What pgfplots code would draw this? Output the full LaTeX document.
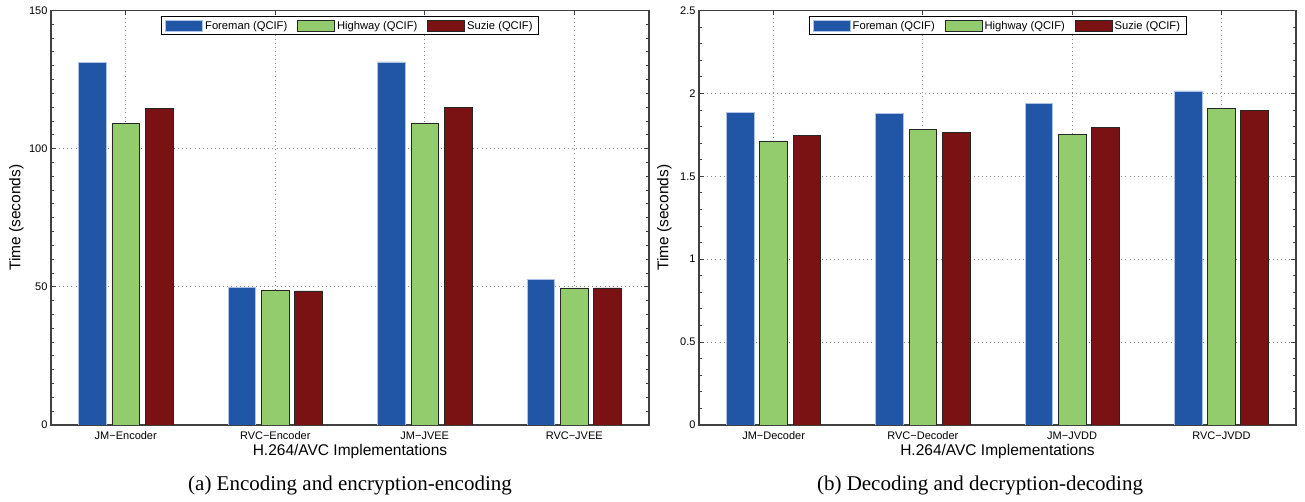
\documentclass[border=0pt]{standalone}
\usepackage{fontspec}
\setmainfont{Liberation Sans}
\newfontfamily\capfont{Liberation Serif}
\usepackage{pgfplots}
\pgfplotsset{compat=1.18}
\definecolor{cBlue}{HTML}{2156A6}
\definecolor{cBlueEdge}{HTML}{AEC3E6}
\definecolor{cGreen}{HTML}{93CC6C}
\definecolor{cRed}{HTML}{7A1214}
\pgfplotsset{
  myleg/.style={legend image code/.code={\draw[##1] (0pt,-5.5pt) rectangle (37pt,5.5pt);}},
  myaxis/.style={
    scale only axis, width=598pt, height=414.5pt, anchor=south west,
    xmin=0.5, xmax=4.5, xtick={1,2,3,4}, ymin=0,
    ybar, bar width=0.185,
    axis line style={line width=1.2pt, black!75},
    tick style={black!75, line width=0.9pt},
    major tick length=5pt, minor tick length=3pt,
    tick align=inside, tick pos=both,
    grid=major, major grid style={dash pattern=on 0.9pt off 3.2pt, black!45, line width=0.9pt},
    minor grid style={draw=none},
    /pgf/number format/assume math mode=true,
    yticklabel style={font=\fontsize{11}{13}\selectfont},
    xticklabel style={font=\fontsize{11}{13}\selectfont, anchor=center, yshift=-11pt},
    ylabel={Time (seconds)}, xlabel={H.264/AVC Implementations},
    ylabel style={font=\fontsize{15.5}{18}\selectfont, at={(axis description cs:-0.058,0.5)}, anchor=center},
    xlabel style={font=\fontsize{15.5}{18}\selectfont, at={(axis description cs:0.5,0)}, anchor=center, yshift=-26pt},
    legend style={at={(0.5,1)}, yshift=-6pt, anchor=north, legend columns=3, draw=black, line width=0.8pt,
      font=\fontsize{11.2}{13}\selectfont, inner xsep=4pt, inner ysep=2pt,
      /tikz/every even column/.append style={column sep=8pt}},
    legend cell align=left,
  },
  sBlue/.style={fill=cBlue, draw=cBlueEdge, line width=0.7pt, bar shift=-0.223, myleg},
  sGreen/.style={fill=cGreen, draw=black!85, line width=0.8pt, bar shift=0, myleg},
  sRed/.style={fill=cRed, draw=black!85, line width=0.8pt, bar shift=0.223, myleg},
}
\begin{document}
\begin{tikzpicture}
\path[use as bounding box] (0,0) rectangle (1305pt,502pt);
\begin{axis}[myaxis, at={(51pt,77pt)}, ymax=150, ytick={0,50,100,150}, minor y tick num=9,
  xticklabels={JM−Encoder,RVC−Encoder,JM−JVEE,RVC−JVEE}]
\addplot[sBlue] coordinates {(1,131.2) (2,49.7) (3,131.4) (4,52.8)};
\addplot[sGreen] coordinates {(1,109.0) (2,48.6) (3,109.3) (4,49.6)};
\addplot[sRed] coordinates {(1,114.6) (2,48.5) (3,114.8) (4,49.6)};
\legend{Foreman (QCIF),Highway (QCIF),Suzie (QCIF)}
\end{axis}
\begin{axis}[myaxis, at={(699pt,77pt)}, width=597pt, ymax=2.5, ytick={0,0.5,1,1.5,2,2.5}, minor y tick num=4,
  xticklabels={JM−Decoder,RVC−Decoder,JM−JVDD,RVC−JVDD}]
\addplot[sBlue] coordinates {(1,1.883) (2,1.881) (3,1.937) (4,2.015)};
\addplot[sGreen] coordinates {(1,1.713) (2,1.783) (3,1.755) (4,1.907)};
\addplot[sRed] coordinates {(1,1.747) (2,1.767) (3,1.795) (4,1.899)};
\legend{Foreman (QCIF),Highway (QCIF),Suzie (QCIF)}
\end{axis}
\node[font=\capfont\fontsize{21}{24}\selectfont, anchor=center] at (350pt,17pt) {(a) Encoding and encryption-encoding};
\node[font=\capfont\fontsize{21}{24}\selectfont, anchor=center] at (980pt,17pt) {(b) Decoding and decryption-decoding};
\end{tikzpicture}
\end{document}
